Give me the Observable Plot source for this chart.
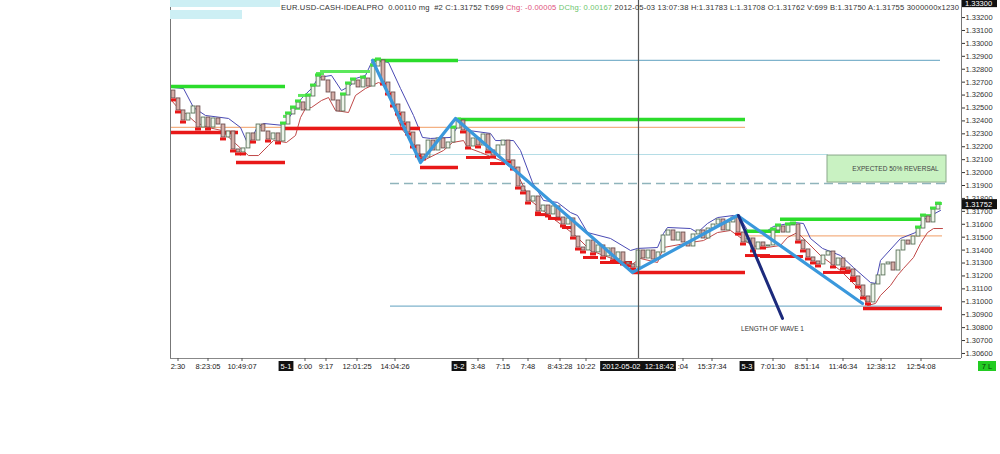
<!DOCTYPE html>
<html><head><meta charset="utf-8">
<script src="https://cdn.jsdelivr.net/npm/d3@7"></script>
<script src="https://cdn.jsdelivr.net/npm/@observablehq/plot@0.6"></script>
<style>
body{margin:0;background:#fff;}
#chart{position:relative;width:1000px;height:454px;overflow:hidden;}
</style>
</head><body><div id="chart"></div>
<script>
const FONT = "Liberation Sans, Arial, sans-serif";
// ---- candle data (bar index = position in array) ----
const firstOpen = 1.32635;
const closes = [
1.32574,1.32481,1.32403,1.32457,1.32512,1.32349,1.32426,1.32349,1.32419,1.32372,
1.32272,1.32318,1.32179,1.32156,1.32187,1.32303,1.32248,1.32372,1.32318,1.32256,
1.32303,1.32241,1.32372,1.32450,1.32496,1.32543,1.32481,1.32589,1.32666,1.32744,
1.32713,1.32620,1.32558,1.32473,1.32597,1.32682,1.32713,1.32659,1.32728,1.32666,
1.32821,1.32868,1.32697,1.32620,1.32527,1.32465,1.32388,1.32310,1.32210,1.32140,
1.32117,1.32248,1.32171,1.32264,1.32187,1.32233,1.32341,1.32403,1.32326,1.32202,
1.32264,1.32210,1.32295,1.32171,1.32132,1.32210,1.32248,1.32094,1.32039,1.31892,
1.31854,1.31776,1.31815,1.31699,1.31745,1.31676,1.31738,1.31652,1.31598,1.31645,
1.31505,1.31420,1.31397,1.31474,1.31382,1.31436,1.31351,1.31413,1.31327,1.31382,
1.31304,1.31289,1.31265,1.31397,1.31335,1.31397,1.31327,1.31382,1.31513,1.31552,
1.31474,1.31536,1.31459,1.31428,1.31521,1.31552,1.31490,1.31567,1.31598,1.31637,
1.31552,1.31614,1.31652,1.31536,1.31459,1.31490,1.31405,1.31459,1.31428,1.31436,
1.31552,1.31583,1.31536,1.31591,1.31598,1.31474,1.31405,1.31343,1.31312,1.31289,
1.31358,1.31389,1.31281,1.31335,1.31265,1.31250,1.31196,1.31126,1.31041,1.30995,
1.31134,1.31204,1.31289,1.31304,1.31242,1.31397,1.31474,1.31443,1.31505,1.31567,
1.31660,1.31614,1.31714,1.31752];
// trailing stop markers (bar indices)
const redMarks = [0,1,2,5,7,10,12,13,14,16,19,21,42,43,44,45,46,47,48,49,50,58,59,61,63,64,67,68,69,70,71,73,75,77,78,80,81,82,84,86,88,90,91,92,113,114,116,118,125,126,127,128,129,132,134,135,136,137,138,139];
const greenMarks = [22,23,24,25,27,28,29,34,35,36,38,40,41,56,57,120,121,123,124,149,150,152,153];
// channel lines [bar, price]
const blueLine = [[-0.4,1.32659],[2,1.32651],[4,1.32504],[6.4,1.32442],[11,1.32419],[13.4,1.32349],[15,1.32210],[16.6,1.32341],[18,1.32380],[22,1.32365],[24.4,1.32496],[25.6,1.32574],[27.6,1.32651],[29,1.32736],[31.6,1.32752],[33.6,1.32635],[35.4,1.32674],[36.4,1.32728],[38.4,1.32752],[39.6,1.32852],[41,1.32868],[43,1.32852],[45.4,1.32651],[48,1.32442],[49.8,1.32272],[51.4,1.32264],[55.4,1.32272],[57.4,1.32388],[59,1.32326],[63.4,1.32303],[64.4,1.32248],[68,1.32248],[69.4,1.32171],[71.8,1.31923],[74,1.31784],[76.8,1.31769],[79.4,1.31691],[80.8,1.31668],[82.8,1.31536],[87.4,1.31490],[91.4,1.31397],[92.8,1.31413],[96.8,1.31420],[98,1.31529],[98.8,1.31575],[103.4,1.31567],[104.8,1.31536],[106.8,1.31606],[108.8,1.31652],[112,1.31668],[113.4,1.31645],[114.8,1.31552],[118,1.31529],[120,1.31583],[124,1.31614],[126,1.31606],[127.4,1.31490],[129.8,1.31413],[133.4,1.31358],[136,1.31265],[139.4,1.31149],[140.4,1.31142],[141.4,1.31320],[145.4,1.31490],[148.4,1.31536],[150.4,1.31645],[153.4,1.31707]];
const redLine = [[-0.4,1.32558],[1,1.32496],[2.4,1.32457],[4.4,1.32388],[7,1.32349],[9.6,1.32326],[12.4,1.32225],[15,1.32132],[17,1.32132],[19,1.32210],[20,1.32248],[22.6,1.32233],[24.4,1.32287],[25.4,1.32426],[26.4,1.32496],[27.6,1.32504],[29.6,1.32558],[31,1.32581],[32.4,1.32481],[35,1.32465],[36.4,1.32597],[38.4,1.32651],[41,1.32697],[42.4,1.32674],[45.6,1.32341],[48.8,1.32187],[50,1.32094],[54,1.32171],[55.8,1.32233],[58,1.32248],[58.8,1.32194],[61.4,1.32156],[65.4,1.32094],[68.4,1.32016],[71.4,1.31784],[75.4,1.31660],[80.4,1.31513],[83.4,1.31397],[91.4,1.31281],[93.4,1.31335],[96.8,1.31304],[98,1.31420],[103.4,1.31459],[106,1.31474],[108.8,1.31536],[111.4,1.31552],[112.8,1.31513],[114.8,1.31459],[117.4,1.31413],[121.4,1.31436],[122.8,1.31498],[124.8,1.31536],[126.4,1.31474],[129.4,1.31358],[133.4,1.31242],[137.4,1.31087],[138.8,1.30971],[140.4,1.30987],[141.4,1.31049],[143.4,1.31126],[144.8,1.31204],[146,1.31258],[148,1.31343],[149.4,1.31451],[150.8,1.31536],[152,1.31567],[153.8,1.31567]];
// horizontal segments [fromBar, toBar, price]
const resistanceMain = [[-0.6,22.4,1.32666],[39.8,57,1.32868],[57,114.4,1.32411],[114.4,121.4,1.31545],[121.4,150.4,1.31638]];
const resistanceSteps = [[22,23.4,1.32435],[23.4,25.4,1.32497],[25,27.4,1.32597],[28.6,30.2,1.32767],[29.4,39.4,1.32782],[150.4,152.4,1.31668],[152.4,153.8,1.31761]];
const supportMain = [[-0.6,13,1.32311],[12.6,22.4,1.32078],[22.4,49.4,1.32341],[49.4,57,1.32040],[91.8,114.4,1.31227],[138,153.8,1.30948]];
const supportSteps = [[58.6,63.4,1.32117],[63.4,66.4,1.32070],[72.4,75,1.31675],[75,77.4,1.31645],[77.8,80.4,1.31575],[82,85,1.31343],[85.4,91.8,1.31304],[114.4,119.4,1.31358],[117.4,126,1.31351],[130,135.4,1.31227],[135.4,137,1.31165]];
const orangeLevels = [[-0.6,114.4,1.3235],[114.4,153.8,1.3151]];
const blueLevels = [[57,153.4,1.32868],[43.4,153.4,1.30966]];
const paleLevels = [[43.4,131,1.3214]];
const dashedLevels = [[43.4,154.4,1.31916]];
// annotations
const wave = [[39.8,1.32868],[49.4,1.32078],[56.4,1.32419],[91.8,1.31227],[112.8,1.31668],[137.8,1.30987]];
const waveLength = [[113,1.31668],[121.8,1.30871]];
const reversalBox = [{i1:130.8,i2:154.6,p1:1.31923,p2:1.32132}];
const reversalText = [{i:144.4,p:1.32032,label:"EXPECTED 50% REVERSAL"}];
const waveNote = [{i:119.8,p:1.30793,label:"LENGTH OF WAVE 1"}];
const crosshairBar = 93;
const crosshairLabel = "2012-05-02  12:18:42";
const lastPrice = 1.31752;
const topBoxTick = 1.333;
// axes
const yTicks = [1.306,1.307,1.308,1.309,1.310,1.311,1.312,1.313,1.314,1.315,1.316,1.317,1.318,1.319,1.320,1.321,1.322,1.323,1.324,1.325,1.326,1.327,1.328,1.329,1.330,1.331,1.332,1.333];
const xTickBars = [1,7,13.8,26.4,30.6,36.8,44.4,61,66,71,77.4,82.6,102,107.8,120,126.8,134,141.6,149.6];
const xTickLabels = ["2:30","8:23:05","10:49:07","6:00","9:17","12:01:25","14:04:26","3:48","7:15","7:48","8:43:28","10:22",":04","15:37:34","7:01:30","8:51:14","11:46:34","12:38:12","12:54:08"];
const dayBars = [22.6,57.2,114.8];
const dayLabels = ["5-1","5-2","5-3"];
const headerParts = [
  {text:"EUR.USD-CASH-IDEALPRO  0.00110 mg  #2 C:1.31752 T:699 ", color:"#333"},
  {text:"Chg: -0.00005 ", color:"#e0507a"},
  {text:"DChg: 0.00167 ", color:"#6cc46c"},
  {text:"2012-05-03 13:07:38 H:1.31783 L:1.31708 O:1.31762 V:699 B:1.31750 A:1.31755 3000000x1230", color:"#333"}
];

const candles = closes.map((c,i)=>({i, o: i ? closes[i-1] : firstOpen, c}));
const up = candles.filter(d=>d.c>=d.o), down = candles.filter(d=>d.c<d.o);
const seg = ()=>({x1:d=>d[0], x2:d=>d[1], y:d=>d[2]});

const chart = Plot.plot({
  width:1000, height:454,
  marginLeft:170, marginRight:39, marginTop:0, marginBottom:96,
  x:{domain:[-0.6,157.6], axis:null},
  y:{domain:[1.30561,1.33332], axis:null, label:null},
  style:{fontFamily:FONT, background:"transparent", overflow:"visible"},
  marks:[
    Plot.ruleY(orangeLevels, {...seg(), stroke:"#f4b183", strokeWidth:1.3}),
    Plot.ruleY(blueLevels, {...seg(), stroke:"#7fb3cc", strokeWidth:1.2}),
    Plot.ruleY(paleLevels, {...seg(), stroke:"#b5dde6", strokeWidth:1.2}),
    Plot.ruleY(dashedLevels, {...seg(), stroke:"#8fb4bb", strokeWidth:1.6, strokeDasharray:"9,5"}),
    Plot.rect(reversalBox, {x1:"i1", x2:"i2", y1:"p1", y2:"p2", fill:"#c9f2c2", stroke:"#8aa88a", strokeWidth:1}),
    Plot.text(reversalText, {x:"i", y:"p", text:"label", fontSize:6.5, fill:"#444"}),
    Plot.line(blueLine, {x:d=>d[0], y:d=>d[1], stroke:"#4a4ab4", strokeWidth:1}),
    Plot.line(redLine, {x:d=>d[0], y:d=>d[1], stroke:"#c04848", strokeWidth:1}),
    Plot.ruleY(resistanceSteps, {...seg(), stroke:"#5ce85c", strokeWidth:3}),
    Plot.ruleY(supportSteps, {...seg(), stroke:"#e81818", strokeWidth:3}),
    Plot.ruleY(resistanceMain, {...seg(), stroke:"#2bdc2b", strokeWidth:3.5}),
    Plot.ruleY(supportMain, {...seg(), stroke:"#e81818", strokeWidth:3.5}),
    Plot.rect(up, {x1:d=>d.i-0.38, x2:d=>d.i+0.38, y1:"o", y2:"c", fill:"#eef4ea", stroke:"#5b735b", strokeWidth:0.9}),
    Plot.rect(down, {x1:d=>d.i-0.38, x2:d=>d.i+0.38, y1:"o", y2:"c", fill:"#d6aea8", stroke:"#6e5050", strokeWidth:0.9}),
    Plot.ruleY(candles.filter(d=>redMarks.includes(d.i)), {x1:d=>d.i-0.6, x2:d=>d.i+0.6, y:d=>Math.min(d.o,d.c), dy:1.5, stroke:"#e81818", strokeWidth:3}),
    Plot.ruleY(candles.filter(d=>greenMarks.includes(d.i)), {x1:d=>d.i-0.6, x2:d=>d.i+0.6, y:d=>Math.max(d.o,d.c), dy:-1.5, stroke:"#3ee03e", strokeWidth:3}),
    Plot.line(wave, {x:d=>d[0], y:d=>d[1], stroke:"#3a98dc", strokeWidth:3.2}),
    Plot.line(waveLength, {x:d=>d[0], y:d=>d[1], stroke:"#1c2a7c", strokeWidth:3}),
    Plot.ruleX([crosshairBar], {stroke:"#555", strokeWidth:1.2}),
    Plot.text(waveNote, {x:"i", y:"p", text:"label", fontSize:6.5, fill:"#333"}),
    Plot.ruleX([-0.6, 157.6], {stroke:"#777", strokeWidth:1}),
    Plot.ruleY([1.30561], {stroke:"#888", strokeWidth:1}),
    Plot.axisY(yTicks.filter(t=>t!==topBoxTick), {anchor:"right", tickFormat:d3.format(".5f"), tickSize:3, tickPadding:1, fontSize:7.5, color:"#333", label:null})
  ]
});
document.getElementById("chart").appendChild(chart);

// extra labels positioned through the plot's own scales
const svg = d3.select(chart);
const X = v => chart.scale("x").apply(v);
const Y = v => chart.scale("y").apply(v);
const bottom = Y(1.30561);
const g = svg.append("g").attr("font-family", FONT).attr("font-size", 7.5).attr("text-anchor","start");

// top-left info blocks
g.append("rect").attr("x",170).attr("y",0).attr("width",110).attr("height",7).attr("fill","#cdeff4");
g.append("rect").attr("x",170).attr("y",10).attr("width",72).attr("height",9).attr("fill","#cdeff4");
// header, one line of coloured runs
const head = g.append("text").attr("x",281).attr("y",10).attr("font-size",7.6)
  .attr("textLength",678).attr("lengthAdjust","spacing").style("white-space","pre");
headerParts.forEach(p=>head.append("tspan").attr("fill",p.color).text(p.text));
// bottom time labels
xTickBars.forEach((v,k)=>{
  g.append("line").attr("x1",X(v)).attr("x2",X(v)).attr("y1",bottom).attr("y2",bottom+3).attr("stroke","#555");
  g.append("text").attr("x",X(v)).attr("y",bottom+11).attr("text-anchor","middle").attr("fill","#222").text(xTickLabels[k]);
});
function boxLabel(cx, text, fill, color){
  const t = g.append("text").attr("x",cx).attr("y",bottom+11).attr("text-anchor","middle").attr("fill",color).text(text);
  const w = t.node().getComputedTextLength()+4;
  g.append("rect").attr("x",cx-w/2).attr("y",bottom+3).attr("width",w).attr("height",10).attr("fill",fill);
  t.raise();
}
dayBars.forEach((v,k)=>boxLabel(X(v), dayLabels[k], "#111", "#fff"));
boxLabel(X(crosshairBar), crosshairLabel, "#111", "#fff");
// price boxes on the right axis
const axX = X(157.6);
g.append("rect").attr("x",axX+1).attr("y",Y(lastPrice)-5).attr("width",35).attr("height",10).attr("fill","#111");
g.append("text").attr("x",axX+4).attr("y",Y(lastPrice)+3).attr("fill","#fff").text(d3.format(".5f")(lastPrice));
g.append("rect").attr("x",axX+1).attr("y",Y(topBoxTick)-7).attr("width",35).attr("height",10).attr("fill","#111");
g.append("text").attr("x",axX+4).attr("y",Y(topBoxTick)+2).attr("fill","#fff").text(d3.format(".5f")(topBoxTick));
// small status box
g.append("rect").attr("x",978).attr("y",bottom+3).attr("width",18).attr("height",10).attr("fill","#22cc22");
g.append("text").attr("x",987).attr("y",bottom+11).attr("text-anchor","middle").attr("fill","#0a3a0a").text("7 L");
</script>
</body></html>
